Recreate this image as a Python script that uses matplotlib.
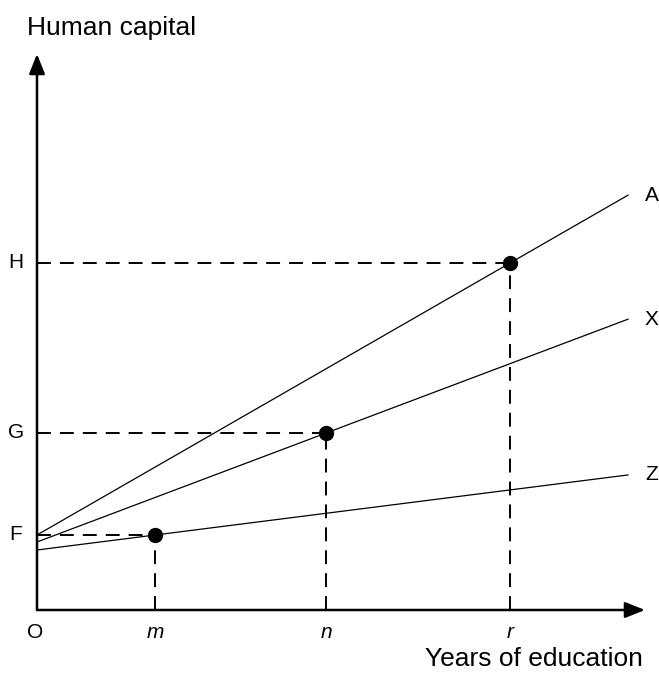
import matplotlib

matplotlib.use("Agg")
import matplotlib.pyplot as plt  # noqa: E402
import numpy as np  # noqa: E402

# data units (origin at O)
X_END = 591
LINE_NAMES = ["A", "X", "Z"]
INTERCEPTS = [75, 68, 60]
SLOPES = [0.575, 0.377, 0.127]

POINT_LABELS_X = ["m", "n", "r"]
POINT_LABELS_Y = ["F", "G", "H"]
POINT_X = [118, 289, 473]
POINT_Y = [75, 177, 347]

plt.rcParams["font.family"] = ["Liberation Sans", "DejaVu Sans"]
plt.rcParams["lines.scale_dashes"] = False

fig = plt.figure(figsize=(6.59, 6.73), dpi=100)
ax = fig.add_axes([0, 0, 1, 1])
ax.set_xlim(-37, 622)
ax.set_ylim(-63, 610)
ax.axis("off")

# axes with arrows
arrow = dict(arrowstyle="-|>,head_length=0.6,head_width=0.24", lw=1.8,
             color="black", mutation_scale=20, shrinkA=0, shrinkB=0)
ax.annotate("", xy=(608, 0), xytext=(0, 0), arrowprops=arrow)
ax.annotate("", xy=(0, 556), xytext=(0, 0), arrowprops=arrow)

# lines
xs = np.array([0, X_END])
for name, b, k in zip(LINE_NAMES, INTERCEPTS, SLOPES):
    ax.plot(xs, b + k * xs, color="black", lw=0.9)
    ax.text(X_END + 17, b + k * X_END, name, fontsize=15,
            ha="left", va="center")

# points with dashed guides
for px, py, lx, ly in zip(POINT_X, POINT_Y, POINT_LABELS_X, POINT_LABELS_Y):
    ax.plot([0, px], [py, py], color="black", lw=1.4, dashes=(10, 6.5))
    ax.plot([px, px], [0, py], color="black", lw=1.4, dashes=(10, 6.5))
    ax.plot(px, py, "o", color="black", markersize=10)
    ax.text(px, -22, lx, fontsize=15, style="italic", ha="center", va="center")
    ax.text(-21, py, ly, fontsize=15, ha="center", va="center")

ax.text(-2, -22, "O", fontsize=15, ha="center", va="center")
ax.text(-10, 582, "Human capital", fontsize=19, ha="left", va="center")
ax.text(606, -49, "Years of education", fontsize=19, ha="right", va="center")

fig.savefig("out.png", dpi=100)
